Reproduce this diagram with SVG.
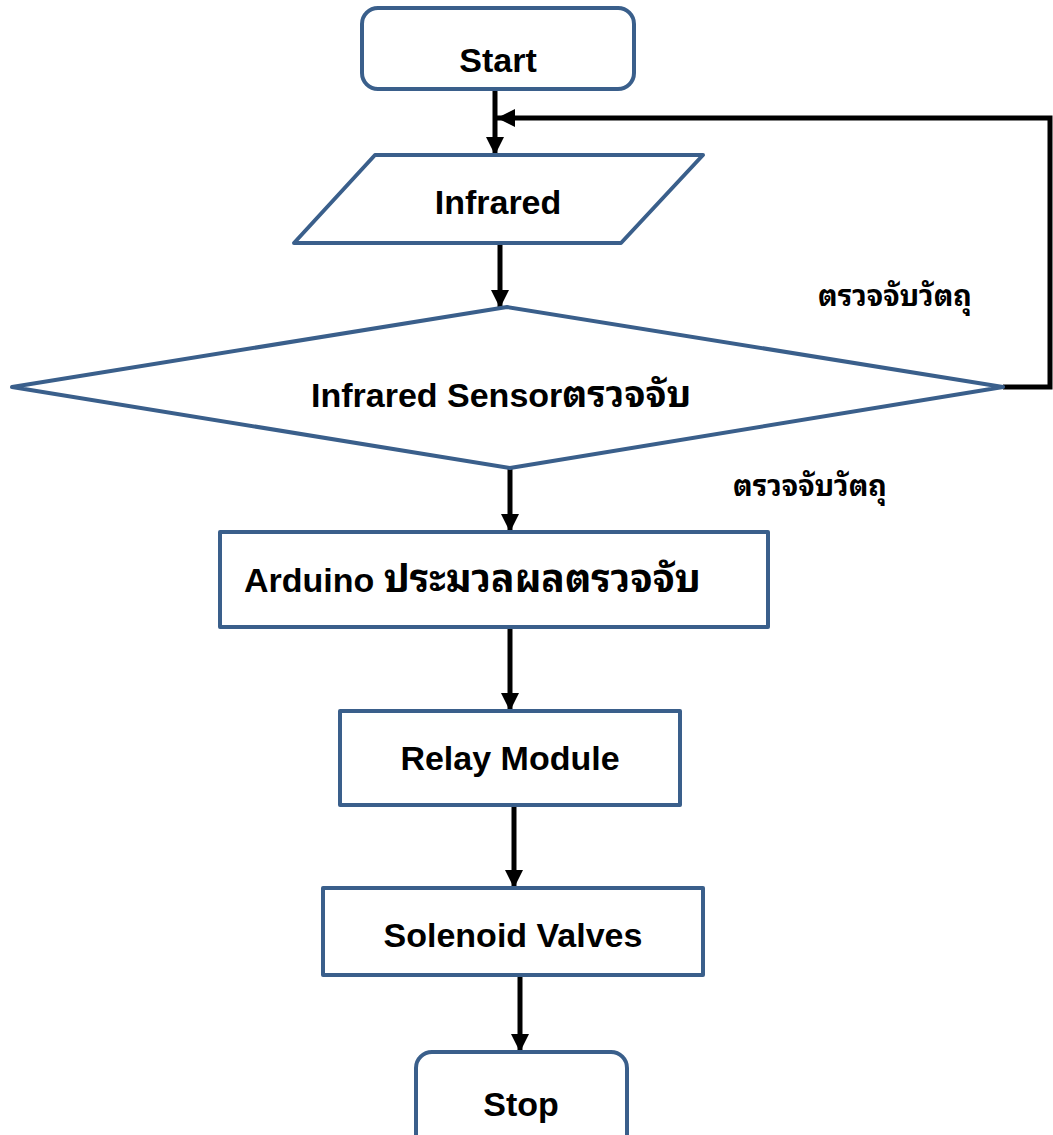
<svg xmlns="http://www.w3.org/2000/svg" width="1053" height="1135" viewBox="0 0 1053 1135">
  <style>
    .shape { fill: #ffffff; stroke: #3A5F8B; stroke-width: 4; stroke-linejoin: round; }
    .lbl { font-family: "Liberation Sans", "Noto Sans Thai Looped", "Noto Sans Thai", "Tahoma", "Noto Sans", sans-serif; font-weight: bold; font-size: 34px; fill: #000000; text-anchor: middle; }
    .st { text-anchor: start; }
    .tt { font-size: 37px; }
    .tt2 { font-size: 39px; }
    .th { font-family: "Liberation Sans", "Noto Sans Thai Looped", "Noto Sans Thai", "Tahoma", "Noto Sans", sans-serif; font-weight: bold; font-size: 29px; fill: #000000; }
    .conn { fill: none; stroke: #000000; stroke-width: 5; }
  </style>
  <defs>
    <marker id="ah" markerUnits="userSpaceOnUse" markerWidth="18" markerHeight="18" refX="18" refY="9" orient="auto">
      <path d="M0,0 L18,9 L0,18 z" fill="#000000"/>
    </marker>
  </defs>
  <rect width="1053" height="1135" fill="#ffffff"/>

  <g id="connectors">
    <line class="conn" x1="495" y1="89" x2="495" y2="155" marker-end="url(#ah)"/>
    <polyline class="conn" points="1003,387 1050,387 1050,118 497,118" marker-end="url(#ah)"/>
    <line class="conn" x1="500" y1="243" x2="500" y2="308" marker-end="url(#ah)"/>
    <line class="conn" x1="510" y1="468" x2="510" y2="532" marker-end="url(#ah)"/>
    <line class="conn" x1="510" y1="627" x2="510" y2="711" marker-end="url(#ah)"/>
    <line class="conn" x1="514" y1="805" x2="514" y2="888" marker-end="url(#ah)"/>
    <line class="conn" x1="520" y1="975" x2="520" y2="1052" marker-end="url(#ah)"/>
    <text class="th" x="818" y="306">ตรวจจับวัตถุ</text>
    <text class="th" x="733" y="496">ตรวจจับวัตถุ</text>
  </g>

  <g id="start">
    <rect class="shape" x="362" y="8" width="272" height="81" rx="16"/>
    <text class="lbl" x="498" y="72">Start</text>
  </g>
  <g id="infrared">
    <polygon class="shape" points="375,155 703,155 621,243 294,243"/>
    <text class="lbl" x="498" y="214">Infrared</text>
  </g>
  <g id="sensor">
    <polygon class="shape" points="507,307 1003,387 510,468 12,387"/>
    <text class="lbl st" x="311" y="407">Infrared Sensor<tspan class="tt">ตรวจจับ</tspan></text>
  </g>
  <g id="arduino">
    <rect class="shape" x="220" y="532" width="548" height="95"/>
    <text class="lbl st" x="244" y="592">Arduino <tspan class="tt2">ประมวลผลตรวจจับ</tspan></text>
  </g>
  <g id="relay">
    <rect class="shape" x="340" y="711" width="340" height="94"/>
    <text class="lbl" x="510" y="770">Relay Module</text>
  </g>
  <g id="solenoid">
    <rect class="shape" x="323" y="888" width="380" height="87"/>
    <text class="lbl" x="513" y="947">Solenoid Valves</text>
  </g>
  <g id="stop">
    <rect class="shape" x="416" y="1052" width="211" height="100" rx="16"/>
    <text class="lbl" x="521" y="1116">Stop</text>
  </g>
</svg>
